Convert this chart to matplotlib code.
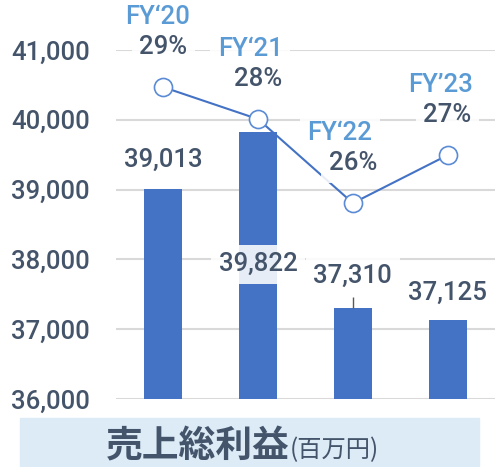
import matplotlib
matplotlib.use("Agg")
import matplotlib.pyplot as plt
from matplotlib.patches import Rectangle

plt.rcParams["font.family"] = ["Roboto", "Noto Sans CJK JP", "DejaVu Sans"]

# data
years = ["FY‘20", "FY‘21", "FY‘22", "FY’23"]
gross_profit = [39013, 39822, 37310, 37125]
margin = [29.1, 28.3, 26.2, 27.4]
margin_labels = ["29%", "28%", "26%", "27%"]
yticks = [36000, 37000, 38000, 39000, 40000, 41000]

# label offsets (pixels)
bar_label_dy = [29, -132, 32, 28]
fy_label_dx = [-6, -8, -13, -7]

bar_color = "#4472C4"
text_color = "#44546A"
fy_color = "#5B9BD5"
label_box = dict(boxstyle="square,pad=0.3", fc="white", ec="none", alpha=0.88)
fs = 18.5
fw = "medium"

fig = plt.figure(figsize=(4.96, 4.67), dpi=100)
ax = fig.add_axes([116 / 496, 68 / 467, 379 / 496, 349 / 467])

x = range(len(years))
ax.bar(x, gross_profit, width=0.4, color=bar_color, zorder=2)
ax.set_xlim(-0.5, 3.5)
ax.set_ylim(36000, 41000)
ax.set_yticks(yticks)
ax.set_yticklabels([f"{v:,}" for v in yticks])
ax.set_xticks([])
ax.tick_params(axis="y", length=0, pad=19, labelsize=fs, labelcolor=text_color)
for lab in ax.get_yticklabels():
    lab.set_fontweight(fw)
ax.grid(axis="y", color="#D9D9D9", linewidth=1.5, zorder=0)
for s in ax.spines.values():
    s.set_visible(False)

# leader line for FY22 bar label
ax.vlines(2, gross_profit[2], gross_profit[2] + 150, color="#595959", lw=1, zorder=3)

for i, v in enumerate(gross_profit):
    ax.annotate(f"{v:,}", xy=(i, v), xytext=(0, bar_label_dy[i]),
                textcoords="offset pixels", ha="center", va="center",
                fontsize=fs, color=text_color, fontweight=fw,
                bbox=label_box, zorder=4)

# margin line on secondary axis
ax2 = ax.twinx()
ax2.set_ylim(21.3, 30.03)
ax2.axis("off")
ax2.plot(x, margin, color=bar_color, lw=1.5, marker="o", markersize=13,
         markerfacecolor="white", markeredgecolor="#5B8BD5", markeredgewidth=1.2,
         zorder=3)
for i, m in enumerate(margin):
    ax2.annotate(years[i], xy=(i, m), xytext=(fy_label_dx[i], 70),
                 textcoords="offset pixels", ha="center", va="center",
                 fontsize=fs, color=fy_color, fontweight=fw,
                 bbox=label_box, annotation_clip=False)
    ax2.annotate(margin_labels[i], xy=(i, m), xytext=(0, 40),
                 textcoords="offset pixels", ha="center", va="center",
                 fontsize=fs, color=text_color, fontweight=fw,
                 bbox=label_box, annotation_clip=False)

# bottom banner
fig.patches.append(Rectangle((20 / 496, 1 / 467), 459 / 496, 48 / 467,
                             transform=fig.transFigure, color="#DDEBF7", zorder=0))
fig.text(290 / 496, 10 / 467, "売上総利益", ha="right", va="baseline",
         fontsize=26.5, color=text_color, fontweight="bold",
         family=["Noto Sans CJK JP", "DejaVu Sans"])
fig.text(290 / 496, 10 / 467, "(百万円)", ha="left", va="baseline",
         fontsize=17.5, color=text_color,
         family=["Noto Sans CJK JP", "DejaVu Sans"])

fig.savefig("out.png", dpi=100)
